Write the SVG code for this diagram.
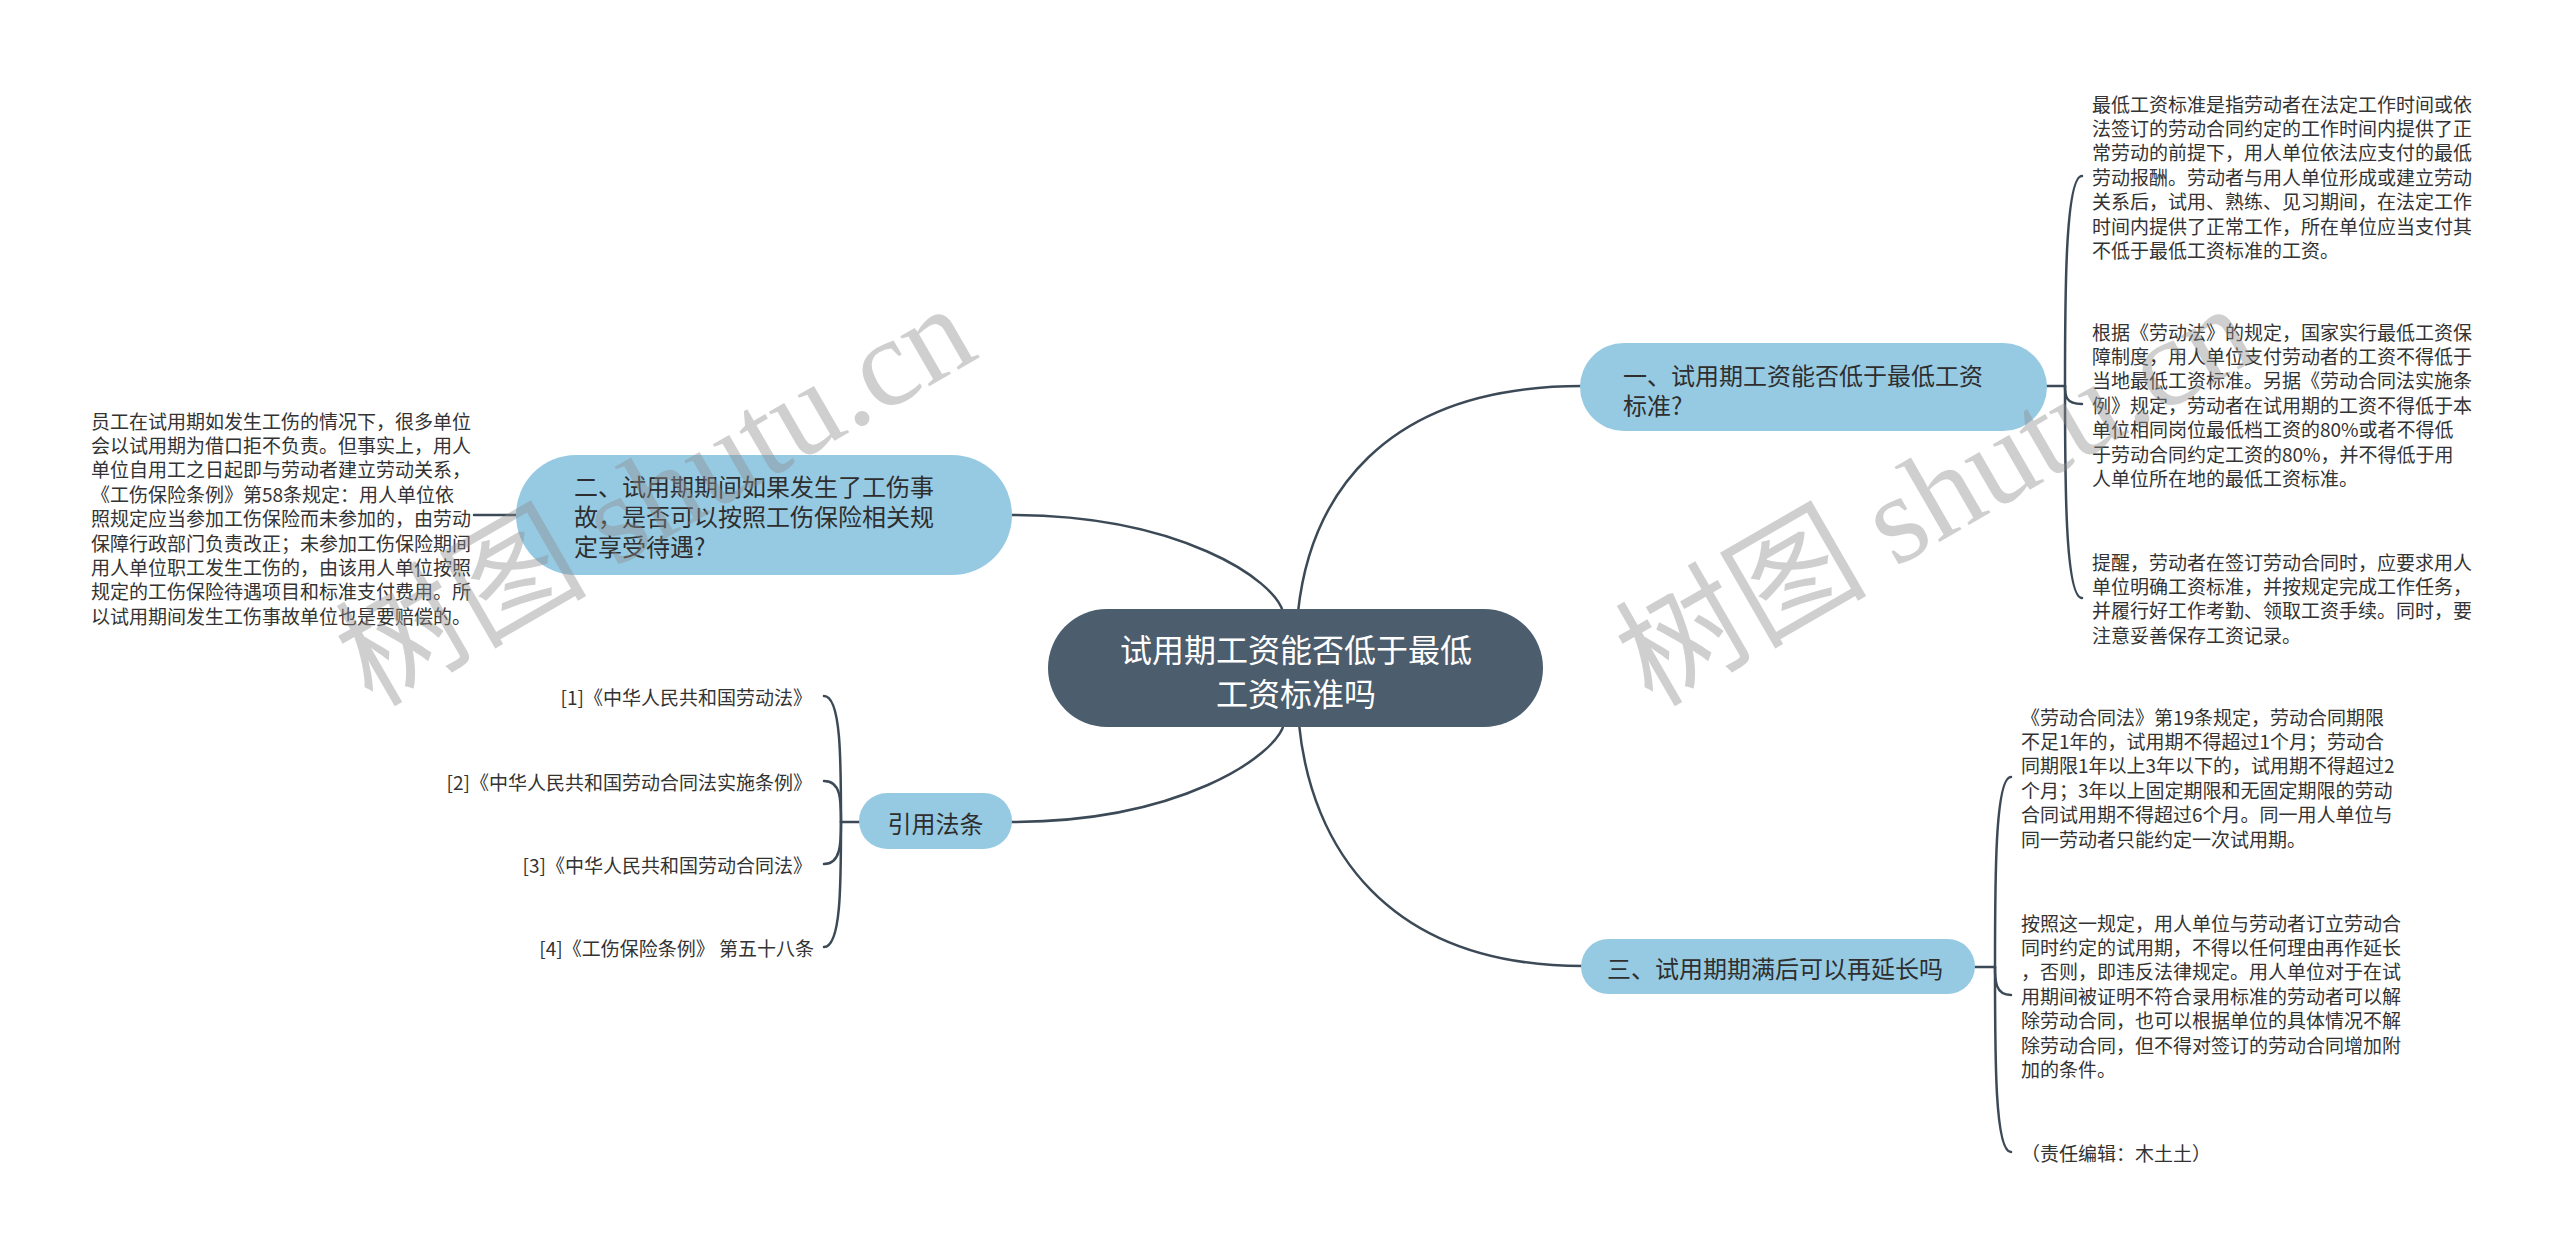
<svg xmlns="http://www.w3.org/2000/svg" width="2560" height="1256" viewBox="0 0 2560 1256">
<style>
text { font-family: "Noto Sans CJK SC", "Noto Sans", sans-serif; dominant-baseline: central; }
.para { font-size: 19px; fill: #333333; }
.cite { font-size: 19px; fill: #333333; }
.sub { font-size: 24px; fill: #2e2e2e; }
.root { font-size: 32px; fill: #ffffff; }
.subnode { fill: #96cae3; }
.rootnode { fill: #4c5d6d; }
.conn { fill: none; stroke: #3c4a57; stroke-width: 2.5; stroke-linecap: round; }
.wm { font-size: 126px; fill: #8c8c8c; fill-opacity: 0.42; }
.wm-latin { font-family: "Liberation Serif", serif; }
</style>
<rect x="0" y="0" width="2560" height="1256" fill="#ffffff"/>

<g id="connectors">
  <path class="conn" d="M1298,612 C1310,500 1380,386 1582,386"/>
  <path class="conn" d="M1283,612 C1275,580 1180,515 1010,515"/>
  <path class="conn" d="M1284,724 C1276,756 1180,822 1010,822"/>
  <path class="conn" d="M1299,724 C1311,845 1385,966 1583,966"/>
  <path class="conn" d="M2045,386 L2065,386"/>
  <path class="conn" d="M2065,386 C2065,300 2065,176 2082,176"/>
  <path class="conn" d="M2065,386 C2065,395 2065,404 2082,404"/>
  <path class="conn" d="M2065,386 C2065,480 2065,598 2082,598"/>
  <path class="conn" d="M1973,967 L1995,967"/>
  <path class="conn" d="M1995,967 C1995,880 1995,777 2011,777"/>
  <path class="conn" d="M1995,967 C1995,980 1995,995 2011,995"/>
  <path class="conn" d="M1995,967 C1995,1060 1995,1152 2011,1152"/>
  <path class="conn" d="M518,515 L474,515"/>
  <path class="conn" d="M861,822 L841,822"/>
  <path class="conn" d="M841,822 C841,760 841,696 824,696"/>
  <path class="conn" d="M841,822 C841,800 841,781 824,781"/>
  <path class="conn" d="M841,822 C841,843 841,864 824,864"/>
  <path class="conn" d="M841,822 C841,885 841,947 824,947"/>
</g>

<g id="root">
  <rect class="rootnode" x="1048" y="609" width="495" height="118" rx="59"/>
  <text class="root" x="1296" y="648" text-anchor="middle">试用期工资能否低于最低</text>
  <text class="root" x="1296" y="692" text-anchor="middle">工资标准吗</text>
</g>

<g id="node-1">
  <rect class="subnode" x="1580" y="343" width="467" height="88" rx="44"/>
  <text class="sub" x="1623" y="374">一、试用期工资能否低于最低工资</text>
  <text class="sub" x="1623" y="404">标准?</text>
</g>

<g id="node-1-text-1">
  <text class="para" x="2092" y="103">最低工资标准是指劳动者在法定工作时间或依</text>
  <text class="para" x="2092" y="127.4">法签订的劳动合同约定的工作时间内提供了正</text>
  <text class="para" x="2092" y="151.8">常劳动的前提下，用人单位依法应支付的最低</text>
  <text class="para" x="2092" y="176.2">劳动报酬。劳动者与用人单位形成或建立劳动</text>
  <text class="para" x="2092" y="200.6">关系后，试用、熟练、见习期间，在法定工作</text>
  <text class="para" x="2092" y="225">时间内提供了正常工作，所在单位应当支付其</text>
  <text class="para" x="2092" y="249.4">不低于最低工资标准的工资。</text>
</g>

<g id="node-1-text-2">
  <text class="para" x="2092" y="331">根据《劳动法》的规定，国家实行最低工资保</text>
  <text class="para" x="2092" y="355.4">障制度，用人单位支付劳动者的工资不得低于</text>
  <text class="para" x="2092" y="379.8">当地最低工资标准。另据《劳动合同法实施条</text>
  <text class="para" x="2092" y="404.2">例》规定，劳动者在试用期的工资不得低于本</text>
  <text class="para" x="2092" y="428.6">单位相同岗位最低档工资的80%或者不得低</text>
  <text class="para" x="2092" y="453">于劳动合同约定工资的80%，并不得低于用</text>
  <text class="para" x="2092" y="477.4">人单位所在地的最低工资标准。</text>
</g>

<g id="node-1-text-3">
  <text class="para" x="2092" y="561">提醒，劳动者在签订劳动合同时，应要求用人</text>
  <text class="para" x="2092" y="585.4">单位明确工资标准，并按规定完成工作任务，</text>
  <text class="para" x="2092" y="609.8">并履行好工作考勤、领取工资手续。同时，要</text>
  <text class="para" x="2092" y="634.2">注意妥善保存工资记录。</text>
</g>

<g id="node-2">
  <rect class="subnode" x="516" y="455" width="496" height="120" rx="60"/>
  <text class="sub" x="574" y="485">二、试用期期间如果发生了工伤事</text>
  <text class="sub" x="574" y="515">故，是否可以按照工伤保险相关规</text>
  <text class="sub" x="574" y="545">定享受待遇?</text>
</g>

<g id="node-2-text">
  <text class="para" x="91" y="420">员工在试用期如发生工伤的情况下，很多单位</text>
  <text class="para" x="91" y="444.4">会以试用期为借口拒不负责。但事实上，用人</text>
  <text class="para" x="91" y="468.8">单位自用工之日起即与劳动者建立劳动关系，</text>
  <text class="para" x="91" y="493.2">《工伤保险条例》第58条规定：用人单位依</text>
  <text class="para" x="91" y="517.6">照规定应当参加工伤保险而未参加的，由劳动</text>
  <text class="para" x="91" y="542">保障行政部门负责改正；未参加工伤保险期间</text>
  <text class="para" x="91" y="566.4">用人单位职工发生工伤的，由该用人单位按照</text>
  <text class="para" x="91" y="590.8">规定的工伤保险待遇项目和标准支付费用。所</text>
  <text class="para" x="91" y="615.2">以试用期间发生工伤事故单位也是要赔偿的。</text>
</g>

<g id="node-cite">
  <rect class="subnode" x="859" y="793" width="153" height="56" rx="28"/>
  <text class="sub" x="935.5" y="822" text-anchor="middle">引用法条</text>
</g>

<g id="cite-1"><text class="cite" x="812" y="696" text-anchor="end">[1]《中华人民共和国劳动法》</text></g>
<g id="cite-2"><text class="cite" x="812" y="781" text-anchor="end">[2]《中华人民共和国劳动合同法实施条例》</text></g>
<g id="cite-3"><text class="cite" x="812" y="864" text-anchor="end">[3]《中华人民共和国劳动合同法》</text></g>
<g id="cite-4"><text class="cite" x="814" y="947" text-anchor="end">[4]《工伤保险条例》 第五十八条</text></g>

<g id="node-3">
  <rect class="subnode" x="1581" y="939" width="394" height="55" rx="27.5"/>
  <text class="sub" x="1607" y="967">三、试用期期满后可以再延长吗</text>
</g>

<g id="node-3-text-1">
  <text class="para" x="2021" y="716">《劳动合同法》第19条规定，劳动合同期限</text>
  <text class="para" x="2021" y="740.4">不足1年的，试用期不得超过1个月；劳动合</text>
  <text class="para" x="2021" y="764.8">同期限1年以上3年以下的，试用期不得超过2</text>
  <text class="para" x="2021" y="789.2">个月；3年以上固定期限和无固定期限的劳动</text>
  <text class="para" x="2021" y="813.6">合同试用期不得超过6个月。同一用人单位与</text>
  <text class="para" x="2021" y="838">同一劳动者只能约定一次试用期。</text>
</g>

<g id="node-3-text-2">
  <text class="para" x="2021" y="922">按照这一规定，用人单位与劳动者订立劳动合</text>
  <text class="para" x="2021" y="946.4">同时约定的试用期，不得以任何理由再作延长</text>
  <text class="para" x="2021" y="970.8">，否则，即违反法律规定。用人单位对于在试</text>
  <text class="para" x="2021" y="995.2">用期间被证明不符合录用标准的劳动者可以解</text>
  <text class="para" x="2021" y="1019.6">除劳动合同，也可以根据单位的具体情况不解</text>
  <text class="para" x="2021" y="1044">除劳动合同，但不得对签订的劳动合同增加附</text>
  <text class="para" x="2021" y="1068.4">加的条件。</text>
</g>

<g id="node-3-text-3">
  <text class="para" x="2021" y="1152">（责任编辑：木土土）</text>
</g>

<g id="watermark">
  <text class="wm" transform="translate(372,708) rotate(-30)" x="0" y="0" style="dominant-baseline:alphabetic">树图 <tspan class="wm-latin">shutu.cn</tspan></text>
  <text class="wm" transform="translate(1652,708) rotate(-30)" x="0" y="0" style="dominant-baseline:alphabetic">树图 <tspan class="wm-latin">shutu.cn</tspan></text>
</g>
</svg>
